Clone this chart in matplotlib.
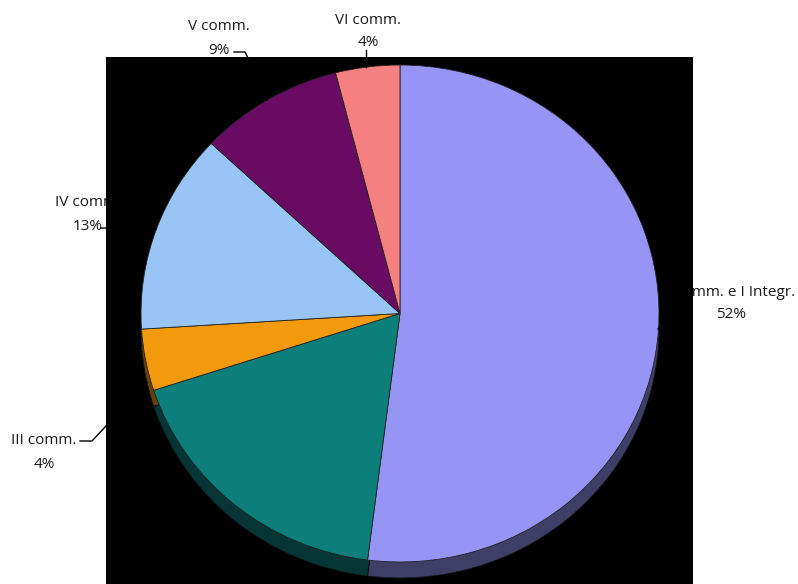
import matplotlib.pyplot as plt
from matplotlib.patches import Rectangle
from matplotlib import colors

categories = ["I comm. e I Integr.", "II comm.", "III comm.", "IV comm.", "V comm.", "VI comm."]
shares = [52, 18, 4, 13, 9, 4]
slice_colors = ["#9694F5", "#0C7F7B", "#F39A0C", "#98C5F5", "#690B62", "#F48080"]

# label anchors (pixel coords, y down) and leader lines for the visible labels
label_pos = {
    "I comm. e I Integr.": (731, 292),
    "III comm.": (44, 441),
    "IV comm.": (88, 203),
    "V comm.": (219, 27),
    "VI comm.": (368, 20),
}
leaders = {
    "I comm. e I Integr.": [(658, 329), (668, 318), (690, 318)],
    "III comm.": [(80, 441), (92, 441), (147, 382)],
    "IV comm.": [(101, 228), (156, 229)],
    "V comm.": [(234, 52), (245, 52), (248, 58), (267, 100)],
    "VI comm.": [(366, 50), (366, 67)],
}

W, H = 798, 584
fig = plt.figure(figsize=(W / 100, H / 100), dpi=100)
fig.patch.set_facecolor("white")

ax = fig.add_axes([0, 0, 1, 1])
ax.set_xlim(0, W)
ax.set_ylim(H, 0)
ax.axis("off")

for name, val in zip(categories, shares):
    if name not in label_pos:
        continue
    x, y = label_pos[name]
    ax.text(x, y, name, ha="center", va="center", fontsize=11,
            family="Open Sans", color="#1a1a1a", zorder=1)
    ax.text(x, y + 23, f"{val}%", ha="center", va="center", fontsize=11,
            family="Open Sans", color="#1a1a1a", zorder=1)

# black plot area drawn over the labels
ax.add_patch(Rectangle((106, 57), 587, 527, facecolor="black", edgecolor="none", zorder=2))

# pie: top face is an ellipse rx=259, ry=248.5 centred at (400, 313.5)
cx, cy, rx, ry = 400, 313.5, 259, 248.5
depth = 16
top_px = cy - ry
bot_px = cy + ry + depth + 2
pax = fig.add_axes([(cx - rx) / W, (H - bot_px) / H, 2 * rx / W, (bot_px - top_px) / H],
                   zorder=3)
pax.patch.set_visible(False)

side_colors = [tuple(c * 0.42 for c in colors.to_rgb(col)) for col in slice_colors]
pax.pie(shares, colors=side_colors, startangle=90, counterclock=False,
        center=(0, -depth / ry), radius=1,
        wedgeprops=dict(edgecolor="#111111", linewidth=0.6))
pax.pie(shares, colors=slice_colors, startangle=90, counterclock=False,
        center=(0, 0), radius=1,
        wedgeprops=dict(edgecolor="#222222", linewidth=0.6))
pax.set_aspect("auto")
pax.set_xlim(-1, 1)
pax.set_ylim(-(bot_px - cy) / ry, 1)
pax.axis("off")

# leader lines on top of everything
lax = fig.add_axes([0, 0, 1, 1], zorder=4)
lax.patch.set_visible(False)
lax.set_xlim(0, W)
lax.set_ylim(H, 0)
lax.axis("off")
for name, pts in leaders.items():
    xs, ys = zip(*pts)
    lax.plot(xs, ys, color="black", linewidth=1)

fig.savefig("out.png", dpi=100)
